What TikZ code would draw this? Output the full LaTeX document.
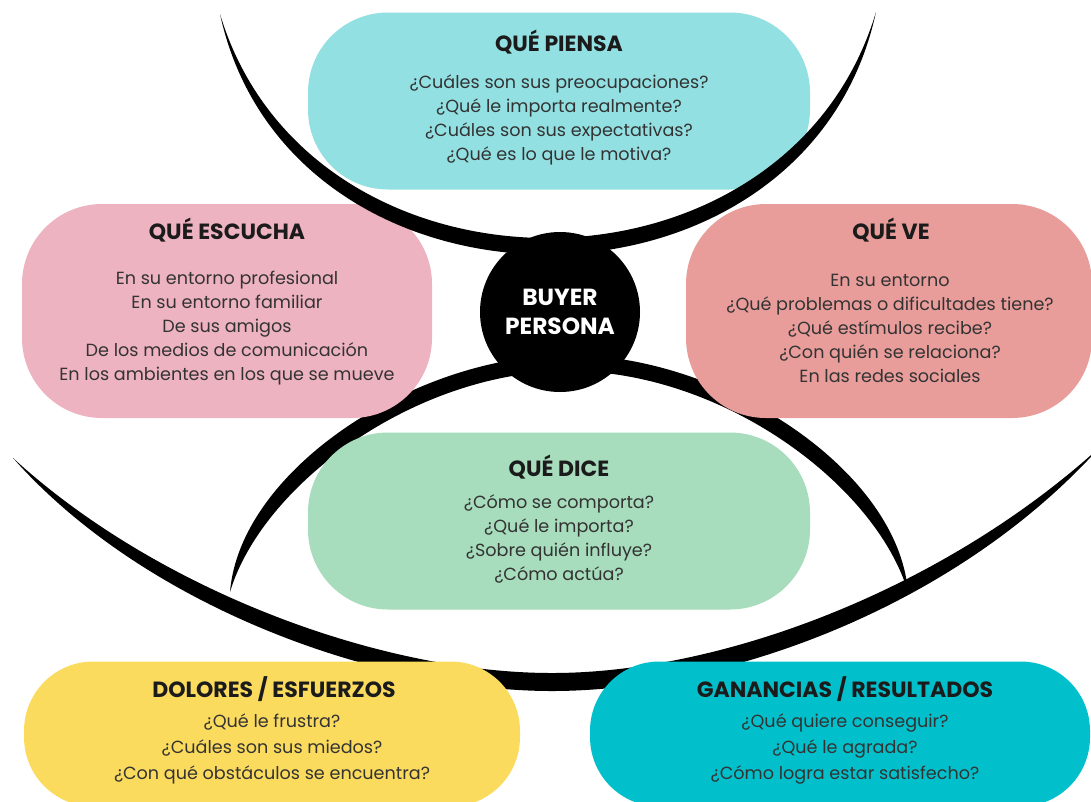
\documentclass[tikz,border=0pt]{standalone}
\usepackage{fontspec}
\setmainfont{Poppins}

\definecolor{piensaC}{RGB}{147,224,227}
\definecolor{escuchaC}{RGB}{238,179,193}
\definecolor{veC}{RGB}{232,157,155}
\definecolor{diceC}{RGB}{167,220,188}
\definecolor{doloresC}{RGB}{251,219,94}
\definecolor{gananciasC}{RGB}{2,192,203}
\definecolor{headC}{RGB}{27,27,27}
\definecolor{bodyC}{RGB}{51,51,51}

\tikzset{every picture/.style={line width=0.75pt},
  pill/.style={rectangle, rounded corners=60pt, inner sep=0pt},
  lowpill/.style={rectangle, rounded corners=52pt, inner sep=0pt},
  title/.style={font=\fontsize{16.5}{19}\selectfont\bfseries, text=headC, inner sep=0.75pt},
  body/.style={font=\fontsize{13.2}{18}\selectfont, text=bodyC, align=center, inner sep=0.75pt},
  lowbody/.style={body, font=\fontsize{13.2}{19.5}\selectfont},
}

\begin{document}
\begin{tikzpicture}[x=0.75pt,y=0.75pt,yscale=-1,xscale=1]
\path[use as bounding box] (0,0) rectangle (1091,801);
\clip (0,0) rectangle (1091,801);

%Shape: middle arc
\fill (230,592) .. controls (240,470) and (415,355) .. (569,355) .. controls (723,355) and (898,470) .. (908,592) .. controls (876,485) and (723,371) .. (569,371) .. controls (415,371) and (262,485) .. (230,592) -- cycle;
%Shape: bottom arc
\fill (13,458) .. controls (146,608) and (380,691) .. (552,691) .. controls (724,691) and (955,608) .. (1100,447) .. controls (945,588) and (724,673) .. (552,673) .. controls (380,673) and (157,590) .. (13,458) -- cycle;

%Shape: boxes
\node[pill, fill=piensaC, minimum width=376.5pt, minimum height=132.75pt] (piensa) at (559,101) {};
\node[pill, fill=escuchaC, minimum width=307.5pt, minimum height=160.5pt] (escucha) at (227,311) {};
\node[pill, fill=veC, minimum width=304.5pt, minimum height=160.5pt] (ve) at (889,311) {};
\node[pill, fill=diceC, minimum width=376.5pt, minimum height=132.75pt] (dice) at (559,521) {};
\node[lowpill, fill=doloresC, minimum width=372pt, minimum height=108.75pt] (dolores) at (272,734) {};
\node[lowpill, fill=gananciasC, minimum width=375pt, minimum height=108.75pt] (ganancias) at (840,734) {};

%Shape: top arc
\fill (220,14) .. controls (290,335) and (806,335) .. (876,12) .. controls (786,313) and (310,313) .. (220,14) -- cycle;

%Shape: centre circle
\node[circle, fill=black, minimum size=120pt, inner sep=0pt] (buyer) at (560,312) {};
\node[font=\fontsize{17.5}{21.75}\selectfont\bfseries, text=white, align=center] (buyer-t) at (560,311.5) {BUYER\\PERSONA};

% Text Node
\node[title] (piensa-t) at (559,42) {QUÉ PIENSA};
\node[body] (piensa-b) at (559,119.5) {¿Cuáles son sus preocupaciones?\\¿Qué le importa realmente?\\¿Cuáles son sus expectativas?\\¿Qué es lo que le motiva?};
% Text Node
\node[title] (escucha-t) at (227,230) {QUÉ ESCUCHA};
\node[body] (escucha-b) at (227,328.5) {En su entorno profesional\\En su entorno familiar\\De sus amigos\\De los medios de comunicación\\En los ambientes en los que se mueve};
% Text Node
\node[title] (ve-t) at (891,230) {QUÉ VE};
\node[body] (ve-b) at (890,328.5) {En su entorno\\¿Qué problemas o dificultades tiene?\\¿Qué estímulos recibe?\\¿Con quién se relaciona?\\En las redes sociales};
% Text Node
\node[title] (dice-t) at (559,467) {QUÉ DICE};
\node[body] (dice-b) at (559,539) {¿Cómo se comporta?\\¿Qué le importa?\\¿Sobre quién influye?\\¿Cómo actúa?};
% Text Node
\node[title] (dolores-t) at (274,689) {DOLORES / ESFUERZOS};
\node[lowbody] (dolores-b) at (272,749) {¿Qué le frustra?\\¿Cuáles son sus miedos?\\¿Con qué obstáculos se encuentra?};
% Text Node
\node[title] (ganancias-t) at (845,689) {GANANCIAS / RESULTADOS};
\node[lowbody] (ganancias-b) at (845,749) {¿Qué quiere conseguir?\\¿Qué le agrada?\\¿Cómo logra estar satisfecho?};

\end{tikzpicture}
\end{document}
